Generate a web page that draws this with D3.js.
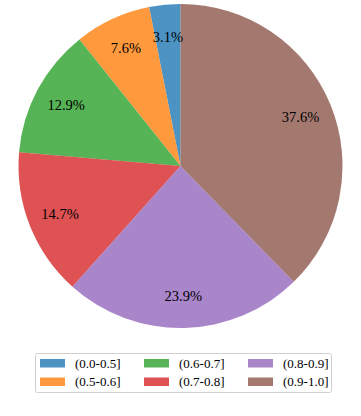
<!DOCTYPE html>
<html><head><meta charset="utf-8">
<script src="https://cdn.jsdelivr.net/npm/d3@7"></script>
<style>body{margin:0;background:#fff}svg{display:block}</style>
</head><body>
<script>
const categories = ["(0.0-0.5]","(0.5-0.6]","(0.6-0.7]","(0.7-0.8]","(0.8-0.9]","(0.9-1.0]"];
const values = [3.1, 7.6, 12.9, 14.7, 23.9, 37.6];
const colors = ["#1f77b4","#ff7f0e","#2ca02c","#d62728","#9467bd","#8c564b"];

const W = 361, H = 416, cx = 180.5, cy = 166, R = 162;
const svg = d3.select("body").append("svg").attr("width", W).attr("height", H);
const font = "Liberation Serif, Times New Roman, serif";

// counterclockwise from top
const pie = d3.pie().sort(null).value(d => d).startAngle(0).endAngle(-2 * Math.PI);
const arcs = pie(values);
const arc = d3.arc().innerRadius(0).outerRadius(R);
const g = svg.append("g").attr("transform", `translate(${cx},${cy})`);
g.selectAll("path").data(arcs).join("path")
  .attr("d", arc).attr("fill", (d, i) => colors[i]).attr("fill-opacity", 0.8);
const labelArc = d3.arc().innerRadius(R * 0.8).outerRadius(R * 0.8);
g.selectAll("text").data(arcs).join("text")
  .attr("transform", d => `translate(${labelArc.centroid(d)})`)
  .attr("text-anchor", "middle").attr("dominant-baseline", "central")
  .style("font-family", font).style("font-size", "14.5px").attr("fill", "#000")
  .text((d, i) => values[i].toFixed(1) + "%");

// legend
const lg = svg.append("g");
lg.append("rect").attr("x", 35.5).attr("y", 353.5).attr("width", 296).attr("height", 39)
  .attr("rx", 2).attr("fill", "#fff").attr("stroke", "#d0d0d0").attr("stroke-width", 1);
const colX = [40, 144, 248], rowY = [363, 381.5];
categories.forEach((c, i) => {
  const col = Math.floor(i / 2), row = i % 2;
  lg.append("rect").attr("x", colX[col]).attr("y", rowY[row] - 4).attr("width", 25).attr("height", 8.5)
    .attr("fill", colors[i]).attr("fill-opacity", 0.8);
  lg.append("text").attr("x", colX[col] + 35).attr("y", rowY[row]).attr("dominant-baseline", "central")
    .style("font-family", font).style("font-size", "13px").attr("fill", "#000").text(c);
});
</script>
</body></html>
